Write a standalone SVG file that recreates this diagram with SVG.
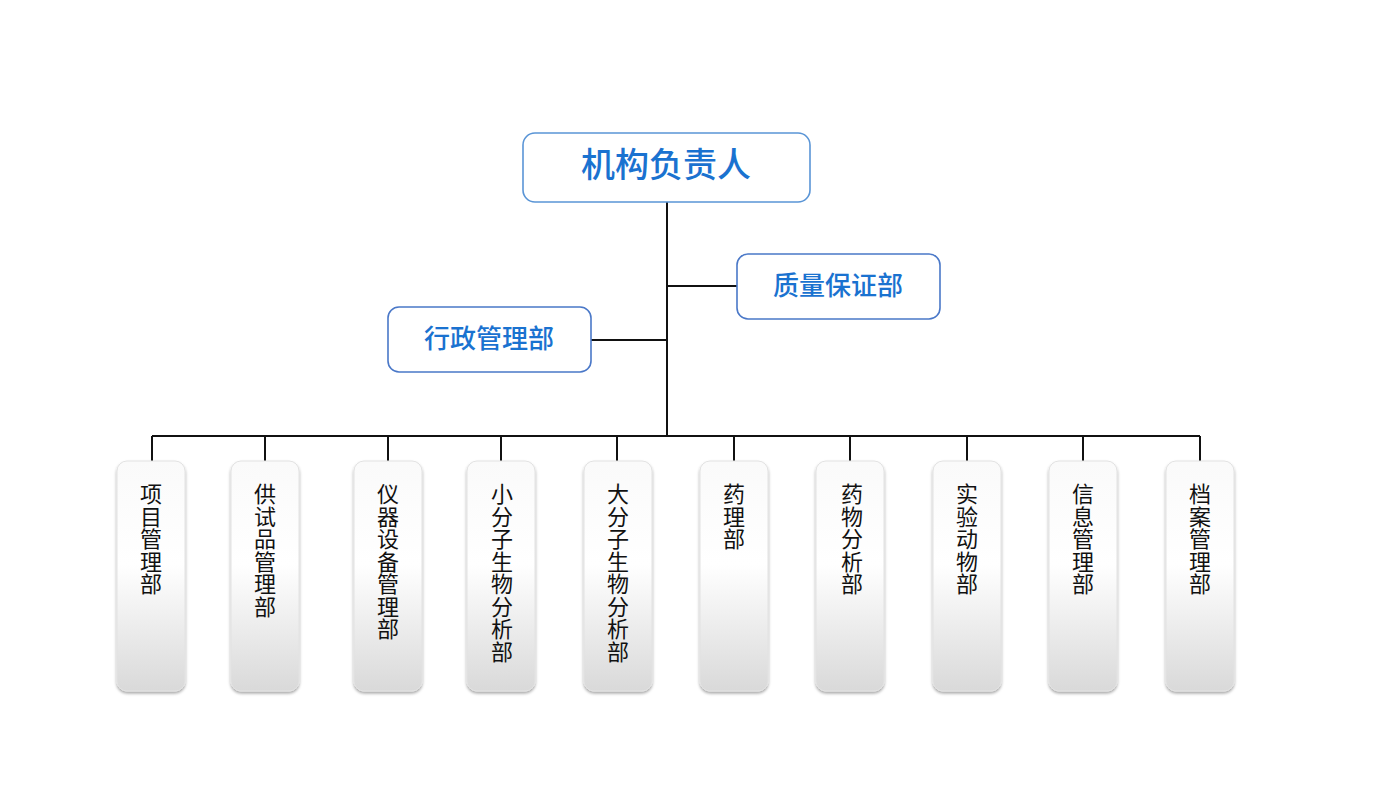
<svg xmlns="http://www.w3.org/2000/svg" width="1400" height="787" viewBox="0 0 1400 787">
<style>
.top{fill:#ffffff;stroke:#5a95d6;stroke-width:1.6}
.mid{fill:#ffffff;stroke:#4a78c8;stroke-width:1.6}
.ttl{font-family:"Noto Sans CJK SC","Noto Sans",sans-serif;fill:#1a72d0;text-anchor:middle;font-weight:500}
.col{fill:url(#g);stroke:#e2e2e2;stroke-width:1;filter:url(#sh)}
.vt{font-family:"Noto Sans CJK SC","Noto Sans",sans-serif;font-size:22px;fill:#111;writing-mode:vertical-rl;text-orientation:upright;letter-spacing:0.5px}
.ln{stroke:#111;stroke-width:2;fill:none}
</style>
<defs>
<linearGradient id="g" x1="0" y1="0" x2="0" y2="1">
<stop offset="0" stop-color="#fafafa"/>
<stop offset="0.45" stop-color="#ffffff"/>
<stop offset="1" stop-color="#d9d9d9"/>
</linearGradient>
<filter id="sh" x="-30%" y="-10%" width="160%" height="125%">
<feDropShadow dx="0" dy="2" stdDeviation="1.5" flood-color="#000" flood-opacity="0.35"/>
</filter>
</defs>
<rect width="1400" height="787" fill="#ffffff"/>
<g id="connectors">
<path class="ln" d="M667 202V436"/>
<path class="ln" d="M667 286H737"/>
<path class="ln" d="M591 340H667"/>
<path class="ln" d="M152 436H1200"/>
<path class="ln" d="M152 436V461M265 436V461M388 436V461M501 436V461M617 436V461M734 436V461M850 436V461M967 436V461M1083 436V461M1200 436V461"/>
</g>
<g id="n-head">
<rect class="top" x="523" y="133" width="287" height="69" rx="12"/>
<text class="ttl" x="666" y="177" font-size="34">机构负责人</text>
</g>
<g id="n-qa">
<rect class="mid" x="737" y="254" width="203" height="65" rx="11"/>
<text class="ttl" x="838" y="295" font-size="26">质量保证部</text>
</g>
<g id="n-admin">
<rect class="mid" x="388" y="307" width="203" height="65" rx="11"/>
<text class="ttl" x="489" y="348" font-size="26">行政管理部</text>
</g>
<g id="n-1"><rect class="col" x="117" y="461" width="68" height="230" rx="10"/>
<text class="vt" x="151" y="483">项目管理部</text></g>
<g id="n-2"><rect class="col" x="231" y="461" width="68" height="230" rx="10"/>
<text class="vt" x="265" y="483">供试品管理部</text></g>
<g id="n-3"><rect class="col" x="354" y="461" width="68" height="230" rx="10"/>
<text class="vt" x="388" y="483">仪器设备管理部</text></g>
<g id="n-4"><rect class="col" x="467" y="461" width="68" height="230" rx="10"/>
<text class="vt" x="502" y="483">小分子生物分析部</text></g>
<g id="n-5"><rect class="col" x="584" y="461" width="68" height="230" rx="10"/>
<text class="vt" x="618" y="483">大分子生物分析部</text></g>
<g id="n-6"><rect class="col" x="700" y="461" width="68" height="230" rx="10"/>
<text class="vt" x="734" y="483">药理部</text></g>
<g id="n-7"><rect class="col" x="816" y="461" width="68" height="230" rx="10"/>
<text class="vt" x="852" y="483">药物分析部</text></g>
<g id="n-8"><rect class="col" x="933" y="461" width="68" height="230" rx="10"/>
<text class="vt" x="967" y="483">实验动物部</text></g>
<g id="n-9"><rect class="col" x="1049" y="461" width="68" height="230" rx="10"/>
<text class="vt" x="1083" y="483">信息管理部</text></g>
<g id="n-10"><rect class="col" x="1166" y="461" width="68" height="230" rx="10"/>
<text class="vt" x="1200" y="483">档案管理部</text></g>
</svg>
